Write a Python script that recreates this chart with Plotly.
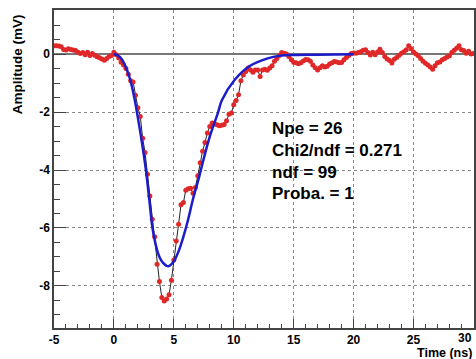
import numpy as np
import plotly.graph_objects as go

# Sampled waveform (0.2 ns steps from -5 to 30 ns)
t_start, t_step = -5.0, 0.2
amplitude = [
    0.29, 0.29, 0.28, 0.25, 0.16, 0.14, 0.18, 0.16, 0.14, 0.12,
    0.06, 0.02, 0.05, -0.02, 0.06, -0.05, 0.02, -0.04, -0.09, -0.13,
    -0.17, -0.21, -0.15, -0.08, -0.05,
    0.06, -0.02, -0.14, -0.28, -0.38, -0.50, -0.70, -0.92, -0.96, -1.42,
    -1.85, -2.15, -2.90, -3.40, -4.15, -4.90, -5.70, -6.30, -7.25, -7.85,
    -8.40, -8.52, -8.45, -8.30, -7.80, -7.10, -6.45, -5.87, -5.20, -5.12,
    -4.70, -4.65, -4.63, -4.80, -4.60, -4.20, -3.75, -3.35, -3.05, -2.72,
    -2.50, -2.38, -2.40, -2.44, -2.47, -2.46, -2.43, -2.30, -2.08, -2.03,
    -1.75, -1.60, -1.40, -0.92, -0.72, -0.60, -0.48, -0.55, -0.63, -0.55,
    -0.55, -0.77, -0.55, -0.52, -0.56, -0.48, -0.40, -0.25, -0.15, -0.05,
    0.05, 0.03, 0.00, -0.08, -0.20, -0.28, -0.30, -0.33, -0.30, -0.24,
    -0.19, -0.20, -0.25, -0.38, -0.47, -0.55,
    -0.47, -0.40, -0.45, -0.42, -0.34, -0.30, -0.26, -0.27, -0.30, -0.29,
    -0.20, -0.12, -0.05, 0.02, 0.04, 0.03, 0.05, 0.08, 0.13, 0.15,
    0.05, -0.03, 0.06, -0.02, 0.07, 0.17, 0.05, -0.08, -0.17, -0.22,
    -0.31, -0.18, -0.12, -0.04, 0.03, 0.08, 0.15, 0.29, 0.18, 0.07,
    0.00, -0.06, -0.15, -0.25, -0.32, -0.38, -0.45, -0.52, -0.40, -0.30,
    -0.27, -0.20, -0.15, -0.10, -0.06, 0.05, 0.13, 0.20, 0.29, 0.15,
    0.12, 0.03, 0.10, 0.00, 0.02,
]
time = [round(t_start + i * t_step, 1) for i in range(len(amplitude))]

# Fitted pulse shape
fit_time = [0.0, 0.5, 0.9, 1.3, 1.7, 2.0, 2.3, 2.67, 3.0, 3.2, 3.5, 3.8, 4.1, 4.55,
            5.0, 5.4, 5.8, 6.2, 6.6, 7.05, 7.5, 8.0, 8.7, 9.0, 10.1, 11.3, 12.9,
            14.0, 15.0, 17.0, 20.0]
fit_amp = [0.0, -0.1, -0.36, -0.8, -1.5, -2.2, -2.95, -4.0, -5.2, -5.95, -6.6, -7.0,
           -7.2, -7.32, -7.15, -6.8, -6.3, -5.7, -5.0, -4.33, -3.6, -2.85, -2.0,
           -1.6, -0.88, -0.42, -0.14, -0.05, -0.03, -0.02, -0.01]

stats_lines = ["Npe = 26", "Chi2/ndf = 0.271", "ndf = 99", "Proba. = 1"]
x_ticks = [-5, 0, 5, 10, 15, 20, 25]
x_ticktext = ["-5", "0", "5", "10", "15", "20", "25"]
x_last_tick = "30"
y_ticks = [-8, -6, -4, -2, 0]
y_ticktext = ["-8", "-6", "-4", "-2", "0"]

W, H = 476, 359
L, R, T, B = 54, 0, 10, 31
pw, ph = W - L - R, H - T - B
FONT = "Liberation Sans"

fig = go.Figure()
fig.add_trace(go.Scatter(
    x=time, y=amplitude, mode="lines+markers",
    line=dict(color="#222222", width=1),
    marker=dict(color="#e02828", size=5, line=dict(width=0)),
    showlegend=False))
fig.add_trace(go.Scatter(
    x=fit_time, y=fit_amp, mode="lines", line_shape="spline",
    line=dict(color="#1c1cc8", width=2.5), showlegend=False))

def px_to_paper(px, py):
    return (px - L) / pw, 1 - (py - T) / ph

ann = []
for i, s in enumerate(stats_lines):
    xp, yp = px_to_paper(271.5, 128.5 + 21.8 * i)
    ann.append(dict(text=s, x=xp, y=yp, xref="paper", yref="paper",
                    xanchor="left", yanchor="middle", showarrow=False,
                    font=dict(family=FONT, size=17, color="black", weight="bold")))
xp, yp = px_to_paper(18, 64)
ann.append(dict(text="Amplitude (mV)", x=xp, y=yp, xref="paper", yref="paper",
                textangle=-90, xanchor="center", yanchor="middle", showarrow=False,
                font=dict(family=FONT, size=13.5, color="black", weight="bold")))
xp, yp = px_to_paper(475.5, 352.5)
ann.append(dict(text="Time (ns)", x=xp, y=yp, xref="paper", yref="paper",
                xanchor="right", yanchor="middle", showarrow=False,
                font=dict(family=FONT, size=12.5, color="black", weight="bold")))
xp, yp = px_to_paper(476, 338)
ann.append(dict(text=x_last_tick, x=xp, y=yp, xref="paper", yref="paper",
                xanchor="right", yanchor="middle", showarrow=False,
                font=dict(family=FONT, size=12, color="black", weight="bold")))

fig.update_layout(
    width=W, height=H, margin=dict(l=L, r=R, t=T, b=B, pad=0),
    paper_bgcolor="white", plot_bgcolor="white",
    annotations=ann,
    xaxis=dict(range=[-5, 30.05], tickvals=x_ticks, ticktext=x_ticktext,
               ticks="inside", ticklen=9, tickcolor="#444", tickwidth=1,
               minor=dict(dtick=1, tick0=0, ticks="inside", ticklen=4.5,
                          tickcolor="#444", showgrid=False),
               showgrid=True, gridcolor="#888", griddash="dot", gridwidth=1,
               zeroline=False, showline=True, linecolor="#444", linewidth=1.5,
               mirror=True,
               tickfont=dict(family=FONT, size=12, color="black", weight="bold")),
    yaxis=dict(range=[-9.45, 1.52], tickvals=y_ticks, ticktext=y_ticktext,
               ticks="inside", ticklen=12, tickcolor="#444", tickwidth=1,
               minor=dict(dtick=0.5, tick0=0, ticks="inside", ticklen=6,
                          tickcolor="#444", showgrid=False),
               showgrid=True, gridcolor="#888", griddash="dot", gridwidth=1,
               zeroline=True, zerolinecolor="#777", zerolinewidth=1.5,
               showline=True, linecolor="#444", linewidth=1.5, mirror=True,
               tickfont=dict(family=FONT, size=12, color="black", weight="bold")),
)

fig.write_html("out.html")
